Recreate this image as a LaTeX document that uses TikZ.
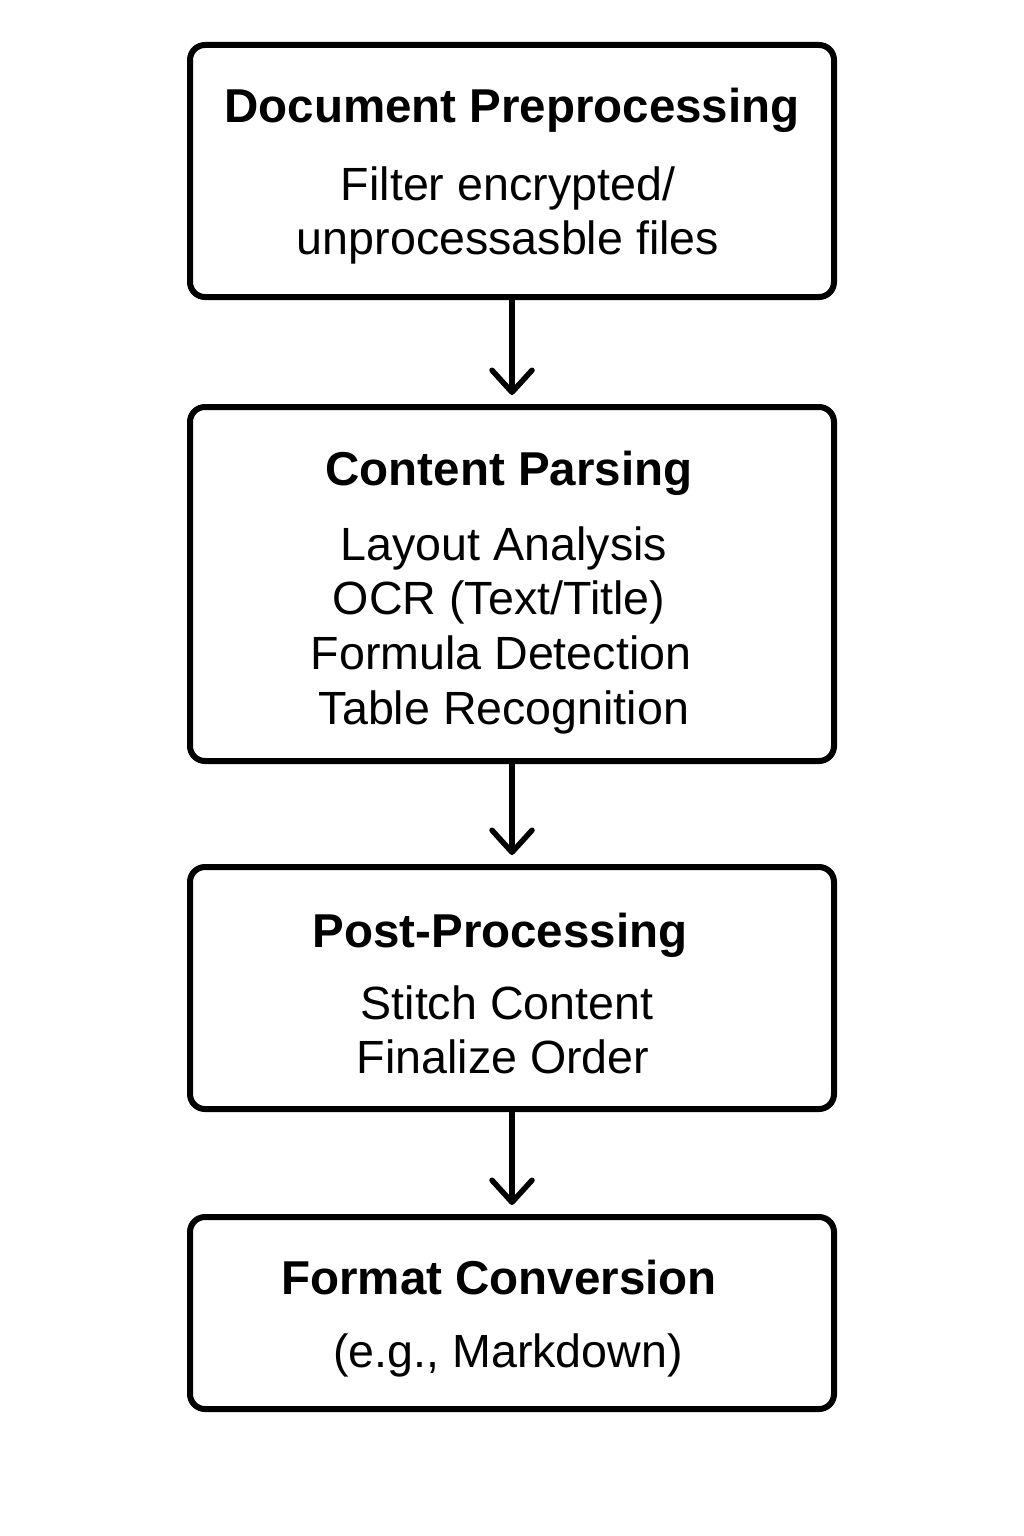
\documentclass[tikz,border=0pt]{standalone}
\usepackage{fontspec}
\setmainfont{Liberation Sans}
\usetikzlibrary{arrows.meta}
\begin{document}
\begin{tikzpicture}[x=1pt,y=-1pt,
  box/.style={draw=black,line width=6pt,rounded corners=15pt,fill=white,inner sep=0pt},
  ttl/.style={anchor=base,inner sep=0pt,font=\fontsize{47.5}{56}\selectfont\bfseries},
  body/.style={anchor=base,inner sep=0pt,font=\fontsize{46.6}{56}\selectfont},
  flow/.style={line width=5.5pt,-{Straight Barb[length=22pt,width=40pt,round]},shorten >=9pt}]
\fill[white] (0,0) rectangle (1024,1536);
\useasboundingbox (0,0) rectangle (1024,1536);
\node[box,minimum width=644pt,minimum height=252pt] (b1) at (512,171) {};
\node[box,minimum width=644pt,minimum height=354pt] (b2) at (512,584) {};
\node[box,minimum width=644pt,minimum height=242pt] (b3) at (512,988) {};
\node[box,minimum width=644pt,minimum height=192pt] (b4) at (512,1313) {};
\node[ttl] (t1) at (512,123) {Document Preprocessing};
\node[body] (t1a) at (508,200) {Filter encrypted/};
\node[body] (t1b) at (508,254) {unprocessasble files};
\node[ttl] (t2) at (509,485) {Content Parsing};
\node[body] (t2a) at (504,560) {Layout Analysis};
\node[body] (t2b) at (499,614) {OCR (Text/Title)};
\node[body] (t2c) at (501,669) {Formula Detection};
\node[body] (t2d) at (504,724) {Table Recognition};
\node[ttl] (t3) at (500,947) {Post-Processing};
\node[body] (t3a) at (507,1019) {Stitch Content};
\node[body] (t3b) at (503,1073) {Finalize Order};
\node[ttl] (t4) at (499,1294) {Format Conversion};
\node[body] (t4a) at (508,1367) {(e.g., Markdown)};
\draw[flow] (b1.south) -- (b2.north);
\draw[flow] (b2.south) -- (b3.north);
\draw[flow] (b3.south) -- (b4.north);
\end{tikzpicture}
\end{document}
